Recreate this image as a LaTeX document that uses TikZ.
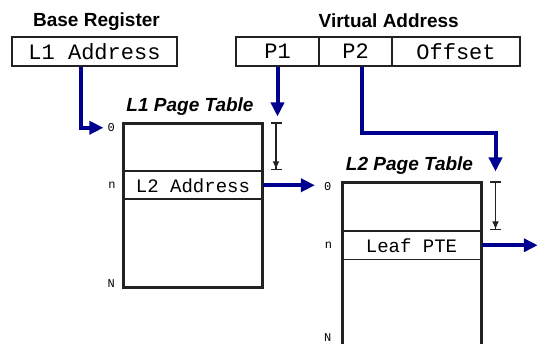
\documentclass[tikz,border=0pt]{standalone}
\usepackage{fontspec}
\setsansfont{Liberation Sans}
\setmonofont{Liberation Mono}
\usetikzlibrary{arrows.meta,positioning}
\definecolor{ptrblue}{HTML}{000090}
\definecolor{ink}{HTML}{222222}

\tikzset{
  field/.style={draw=ink, line width=1.5pt, minimum height=29pt, inner sep=0pt,
    font=\ttfamily\fontsize{22}{24}\selectfont},
  regtitle/.style={inner sep=0pt, font=\sffamily\bfseries\fontsize{19}{21}\selectfont},
  tabtitle/.style={inner sep=0pt, font=\sffamily\bfseries\itshape\fontsize{19}{21}\selectfont},
  pagetab/.style={draw=ink, line width=3pt, minimum width=139pt, minimum height=163pt, inner sep=0pt},
  entry/.style={draw=ink, line width=1.5pt, minimum width=139pt, minimum height=28pt, inner sep=0pt,
    font=\ttfamily\fontsize{19}{21}\selectfont},
  idx/.style={inner sep=1pt, font=\ttfamily\fontsize{12}{12}\selectfont},
  ptr/.style={ptrblue, line width=4pt, -{Triangle[length=14pt,width=13pt]}},
  offspan/.style={ink, line width=1.2pt, {Bar[width=11pt]}-{Latex[length=8pt,width=7pt]Bar[width=11pt]}},
}

\begin{document}
\begin{tikzpicture}[x=1pt, y=-1pt]
      \clip (0,0) rectangle (537,344);
      % base register
      \draw (94.5,51.5) node[field, minimum width=165pt](l1addr){L1 Address};
      \draw (l1addr.north) node[regtitle, above=6pt, xshift=2pt](basereg){Base Register};
      % virtual address
      \draw (277.5,51.5) node[field, minimum width=83pt](p1){P1};
      \draw (355.5,51.5) node[field, minimum width=73pt](p2){P2};
      \draw (456,51.5) node[field, minimum width=128pt](offset){Offset};
      \draw (p2.north east) node[regtitle, above=8pt, xshift=-4pt](vaddr){Virtual Address};
      % L1 page table
      \draw (193,205.5) node[pagetab](l1tab){};
      \draw (l1tab.north) ++(0,48) node[entry, anchor=north](l2addr){L2 Address};
      \draw (l1tab.north) node[tabtitle, above=7pt, xshift=-3pt](l1title){L1 Page Table};
      \draw (l1tab.north west) node[idx, anchor=north east, xshift=-6pt](l1zero){0};
      \draw (l2addr.west) node[idx, anchor=east, xshift=-6pt](l1n){n};
      \draw (l1tab.south west) node[idx, anchor=south east, xshift=-6pt](l1N){N};
      % L2 page table
      \draw (411.5,264.5) node[pagetab](l2tab){};
      \draw (l2tab.north) ++(0,49) node[entry, anchor=north](leafpte){Leaf PTE};
      \draw (l2tab.north) node[tabtitle, above=7pt, xshift=-2pt](l2title){L2 Page Table};
      \draw (l2tab.north west) node[idx, anchor=north east, xshift=-8pt](l2zero){0};
      \draw (leafpte.west) node[idx, anchor=east, xshift=-8pt](l2n){n};
      \draw (l2tab.south west) node[idx, anchor=south east, xshift=-8pt, yshift=5pt](l2N){N};
      % offsets into the tables
      \coordinate (l1top) at ([xshift=12pt]l1tab.north east);
      \coordinate (l2top) at ([xshift=13pt]l2tab.north east);
      \draw[offspan] (l1top) -- (l1top |- l2addr.north);
      \draw[offspan] (l2top) -- (l2top |- leafpte.north);
      % pointers
      \draw[ptr, shorten >=3pt] ([xshift=70pt]l1addr.south west) |- (l1zero.west);
      \draw[ptr, shorten >=6pt] (p1.south) -- (p1.south |- l1top);
      \draw[ptr, shorten >=10pt] ([xshift=6pt]p2.south) -- ++(0,66) -| (l2top);
      \draw[ptr, shorten >=8pt] (l2addr.east) -- (l2addr.east -| l2zero.west);
      \coordinate (out) at ([xshift=56pt]leafpte.east);
      \draw[ptr] (leafpte.east) -- (out);
\end{tikzpicture}
\end{document}
